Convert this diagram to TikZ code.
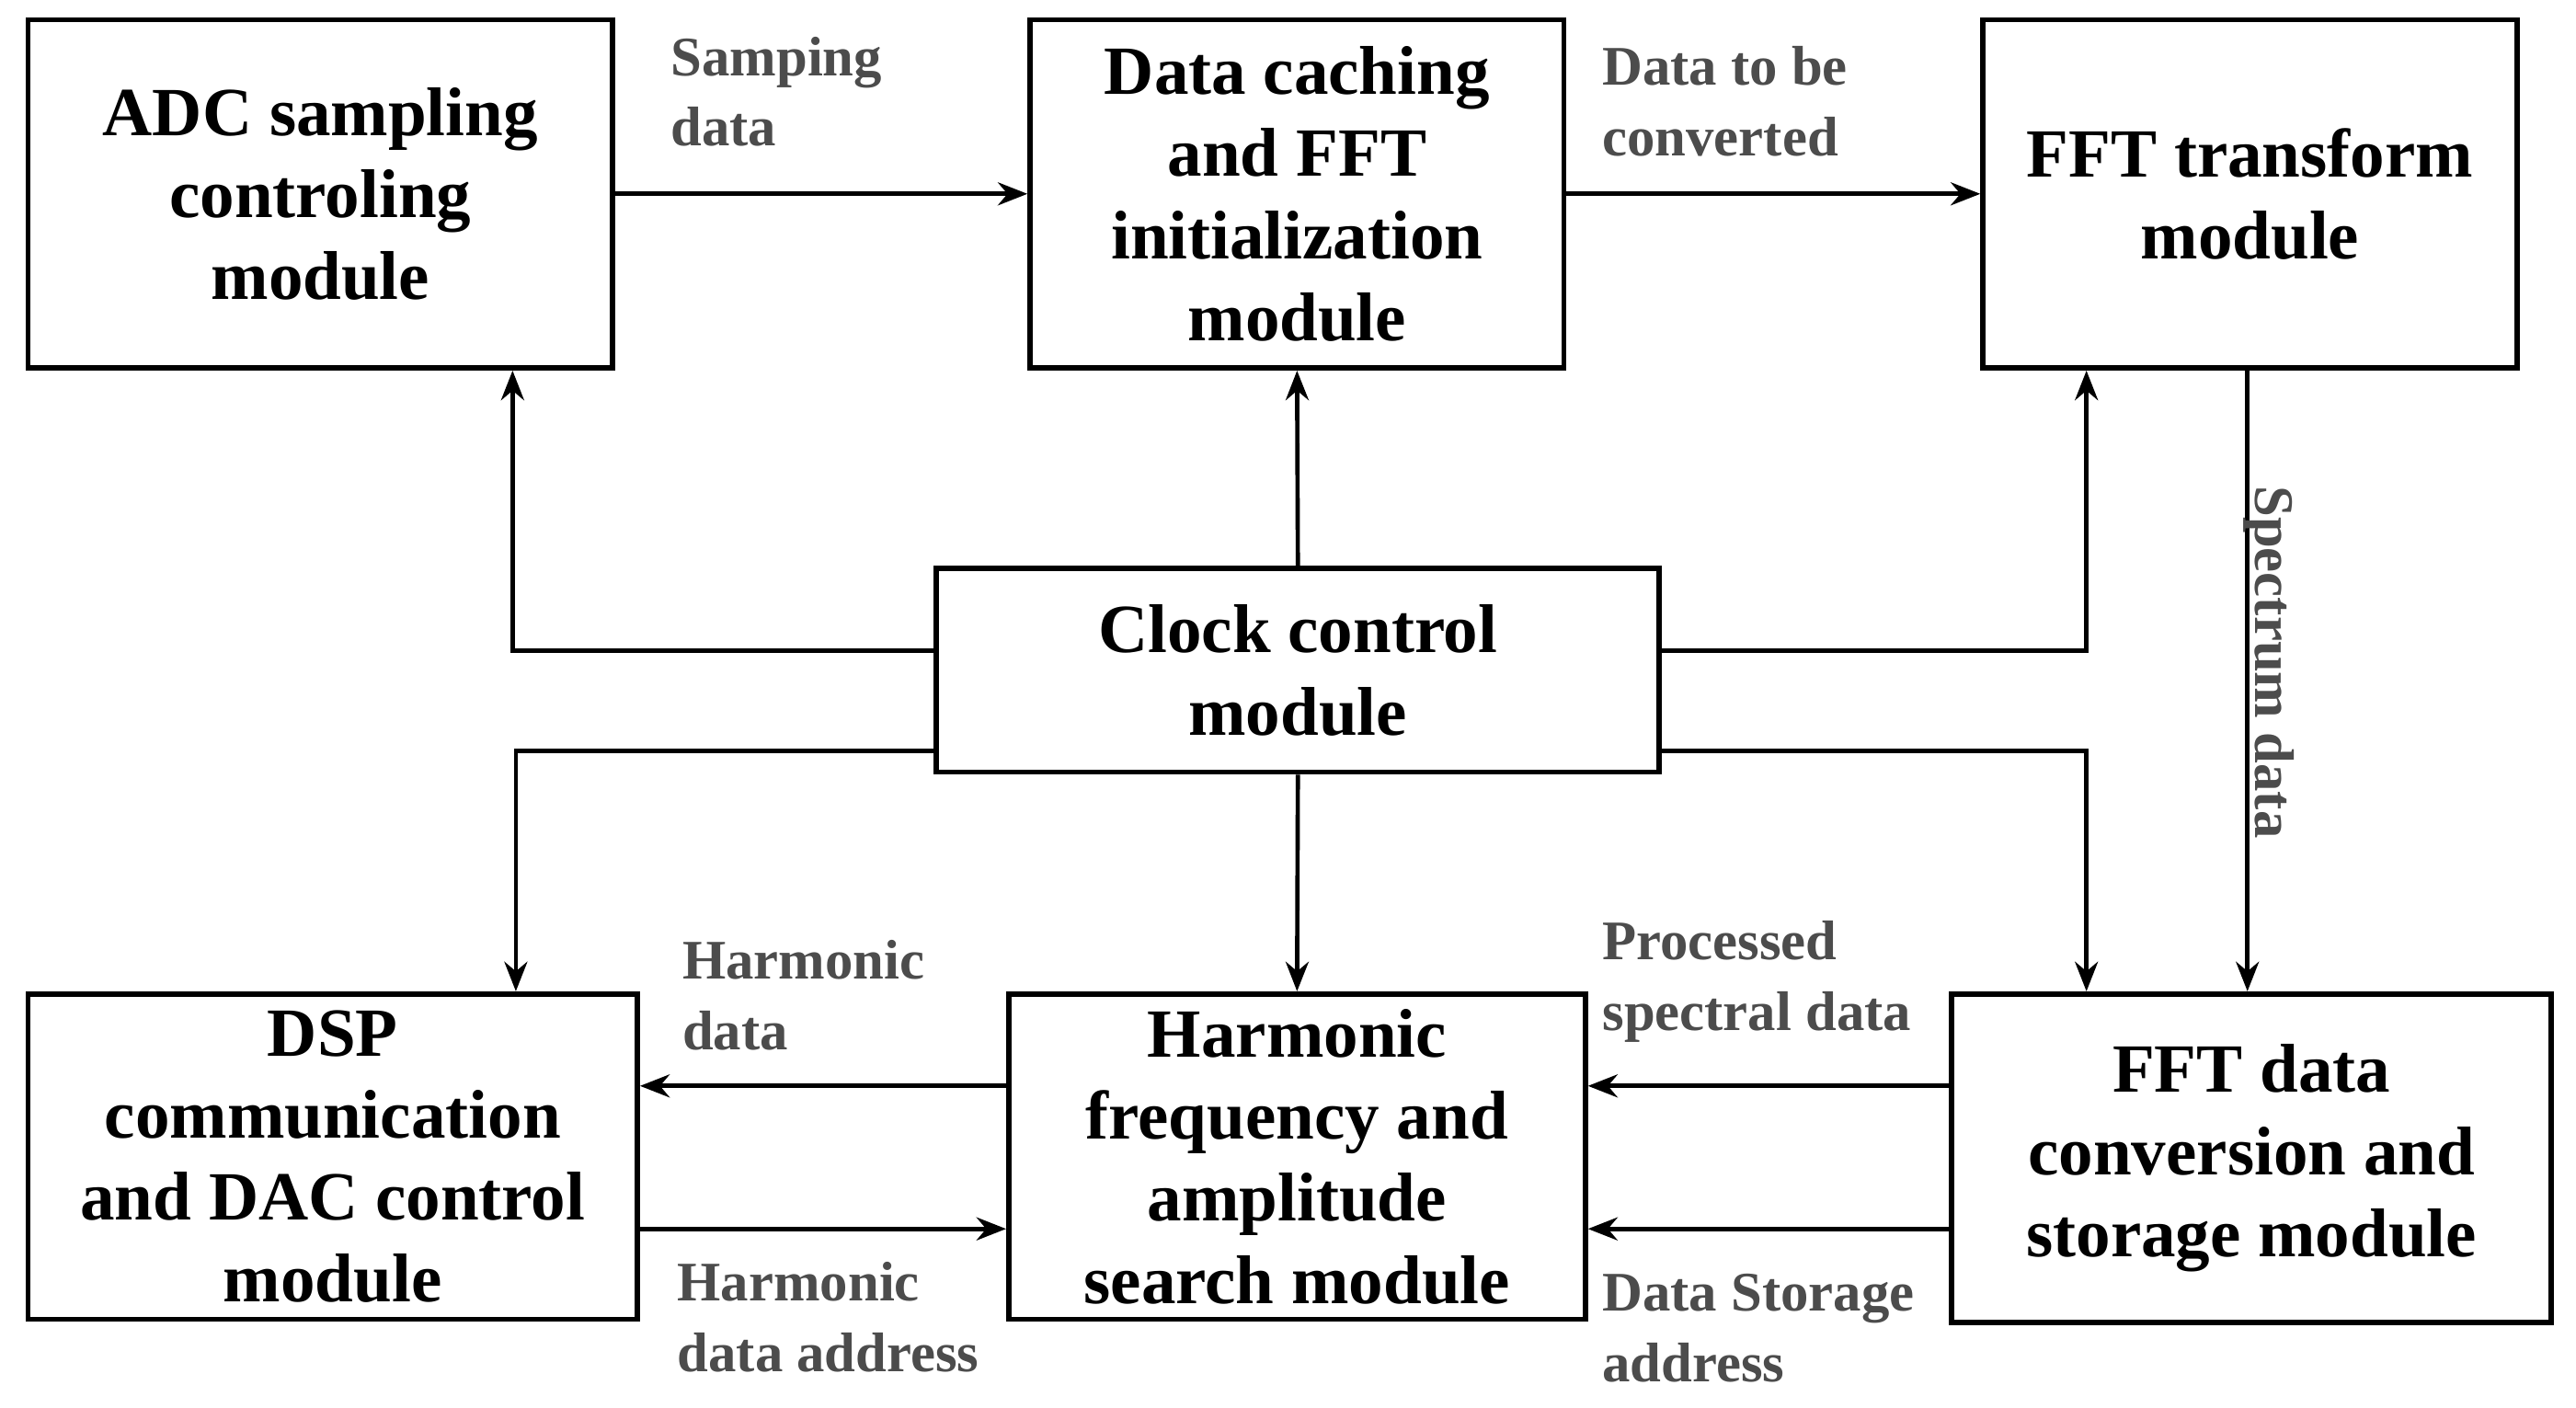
\documentclass[tikz,border=0pt]{standalone}
\usepackage{fontspec}
\setmainfont{Liberation Serif}
\usetikzlibrary{arrows.meta}
\begin{document}
\begin{tikzpicture}[x=0.5pt,y=-0.5pt,
  block/.style={draw,line width=1.6pt,align=center,inner sep=0pt,font=\fontsize{21}{25}\selectfont\bfseries},
  lbl/.style={anchor=north west,inner sep=0pt,align=left,text=black!70,font=\fontsize{17}{21.5}\selectfont\bfseries},
  conn/.style={line width=1.3pt,-{Stealth[length=9pt,width=7pt]}}]
\useasboundingbox (0,0) rectangle (1568,857);

% Blocks
\node [block,minimum width=178pt,minimum height=106pt] (adc) at (195,118) {ADC sampling\\controling\\module};
\node [block,minimum width=162.5pt,minimum height=106pt] (cache) at (789.5,118) {Data caching\\and FFT\\initialization\\module};
\node [block,minimum width=162.5pt,minimum height=106pt] (fft) at (1369.5,118) {FFT transform\\module};
\node [block,minimum width=220pt,minimum height=62pt] (clk) at (790,408) {Clock control\\module};
\node [block,minimum width=185.5pt,minimum height=99pt] (dsp) at (202.5,704) {DSP\\communication\\and DAC control\\module};
\node [block,minimum width=175.5pt,minimum height=99pt] (harm) at (789.5,704) {Harmonic\\frequency and\\amplitude\\search module};
\node [block,minimum width=182.5pt,minimum height=100pt] (conv) at (1370.5,705) {FFT data\\conversion and\\storage module};

% Clock connectors
\draw [conn] (clk.west |- 0,396) -| (adc.south -| 312,0);
\draw [conn] (clk.north) -- (cache.south);
\draw [conn] (clk.east |- 0,396) -| (fft.south -| 1270,0);
\draw [conn] (clk.west |- 0,457) -| (dsp.north -| 314,0);
\draw [conn] (clk.south) -- (harm.north);
\draw [conn] (clk.east |- 0,457) -| (conv.north -| 1270,0);

% Data connectors
\draw [conn] (adc.east) -- (cache.west);
\draw [conn] (cache.east) -- (fft.west);
\draw [conn] (fft.south -| 1368,0) -- (conv.north -| 1368,0);
\draw [conn] (conv.west |- 0,661) -- (harm.east |- 0,661);
\draw [conn] (conv.west |- 0,748) -- (harm.east |- 0,748);
\draw [conn] (harm.west |- 0,661) -- (dsp.east |- 0,661);
\draw [conn] (dsp.east |- 0,748) -- (harm.west |- 0,748);

% Labels
\node [lbl] (l1) at (408,22) {Samping\\data};
\node [lbl] (l2) at (975,28) {Data to be\\converted};
\node [lbl,anchor=north,rotate=-90] (l3) at (1397,403) {Spectrum data};
\node [lbl] (l4) at (975,560) {Processed\\spectral data};
\node [lbl] (l5) at (975,775) {Data Storage\\address};
\node [lbl] (l6) at (415,572) {Harmonic\\data};
\node [lbl] (l7) at (412,768) {Harmonic\\data address};
\end{tikzpicture}
\end{document}
